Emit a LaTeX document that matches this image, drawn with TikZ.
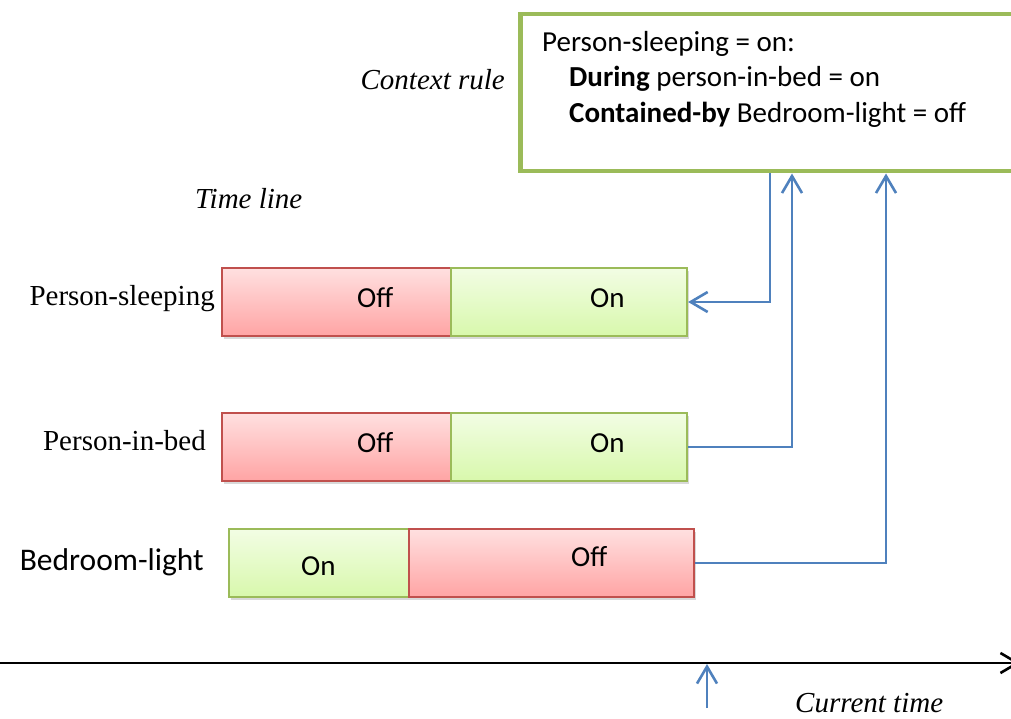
\documentclass[tikz,border=0pt]{standalone}
\usepackage{fontspec}
\setmainfont{Liberation Serif}
\newfontfamily\calib{Carlito}
\usetikzlibrary{arrows.meta,shadows}
\definecolor{redline}{HTML}{C0504D}
\definecolor{greenline}{HTML}{9BBB59}
\definecolor{redtop}{HTML}{FFE0E0}
\definecolor{redbot}{HTML}{FFA4A4}
\definecolor{greentop}{HTML}{F2FDE4}
\definecolor{greenbot}{HTML}{D8F8AC}
\definecolor{bluel}{HTML}{4F81BD}
\tikzset{
  bar/.style={rectangle, inner sep=0pt, minimum height=68pt, line width=2.2pt,
    drop shadow={opacity=0.3, shadow xshift=2pt, shadow yshift=-3pt}},
  offbar/.style={bar, draw=redline, top color=redtop, bottom color=redbot},
  onbar/.style={bar, draw=greenline, top color=greentop, bottom color=greenbot},
  cal/.style={font=\calib\fontsize{29pt}{35pt}\selectfont, inner sep=0pt},
  tms/.style={font=\fontsize{29pt}{35pt}\selectfont, inner sep=0pt},
  itl/.style={font=\itshape\fontsize{29pt}{35pt}\selectfont, inner sep=0pt},
  conn/.style={draw=bluel, line width=2.6pt, -{Straight Barb[length=17pt,width=20pt]}},
}
\begin{document}
\begin{tikzpicture}[x=1pt,y=-1pt]
\useasboundingbox (0,0) rectangle (1011,719);
% context rule box
\node[rectangle, draw=greenline, line width=4.5pt, fill=white, inner sep=0pt,
      minimum width=520pt, minimum height=157pt, anchor=north west] (rule) at (518,12) {};
\node[cal, anchor=base west] (r1) at (542,52) {Person-sleeping = on:};
\node[cal, anchor=base west] (r2) at (569,87) {\textbf{During} person-in-bed = on};
\node[cal, anchor=base west] (r3) at (569,123) {\textbf{Contained-by} Bedroom-light = off};
\node[itl, anchor=base east] (ctxlab) at (505,90) {Context rule};
\node[itl, anchor=base west] (tllab) at (195,209) {Time line};
% rows
\node[offbar, minimum width=229pt] (psoff) at (336.5,302) {};
\node[onbar, minimum width=236pt] (pson) at (569,302) {};
\node[offbar, minimum width=229pt] (piboff) at (336.5,447) {};
\node[onbar, minimum width=236pt] (pibon) at (569,447) {};
\node[onbar, minimum width=180pt] (blon) at (319,563) {};
\node[offbar, minimum width=285pt] (bloff) at (551.5,563) {};
% bar texts
\node[cal, anchor=base west] (t1) at (357,307) {Off};
\node[cal, anchor=base west] (t2) at (590,307) {On};
\node[cal, anchor=base west] (t3) at (357,452) {Off};
\node[cal, anchor=base west] (t4) at (590,452) {On};
\node[cal, anchor=base west] (t5) at (301,575) {On};
\node[cal, anchor=base west] (t6) at (571,566) {Off};
% row labels
\node[tms, anchor=base east] (pslab) at (215,305) {Person-sleeping};
\node[tms, anchor=base east] (piblab) at (206,450) {Person-in-bed};
\node[font=\calib\fontsize{31.5pt}{36pt}\selectfont, inner sep=0pt, anchor=base east] (bllab) at (204,570) {Bedroom-light};
% connectors
\coordinate (x1) at (770,0);
\coordinate (x2) at (792,0);
\coordinate (x3) at (886,0);
\draw[conn] (x1 |- rule.south) |- (pson.east);
\draw[conn] (pibon.east) -| (x2 |- rule.south);
\draw[conn] (bloff.east) -| (x3 |- rule.south);
% time axis
\coordinate (ax0) at (0,663);
\coordinate (ax1) at (1020,663);
\draw[line width=2.6pt, -{Straight Barb[length=17pt,width=20pt]}] (ax0) -- (ax1);
\coordinate (ctb) at (707,708);
\draw[conn] (ctb) -- ([yshift=-1pt]ctb |- ax0);
\node[itl, anchor=base west] (ctlab) at (795,712) {Current time};
\end{tikzpicture}
\end{document}
